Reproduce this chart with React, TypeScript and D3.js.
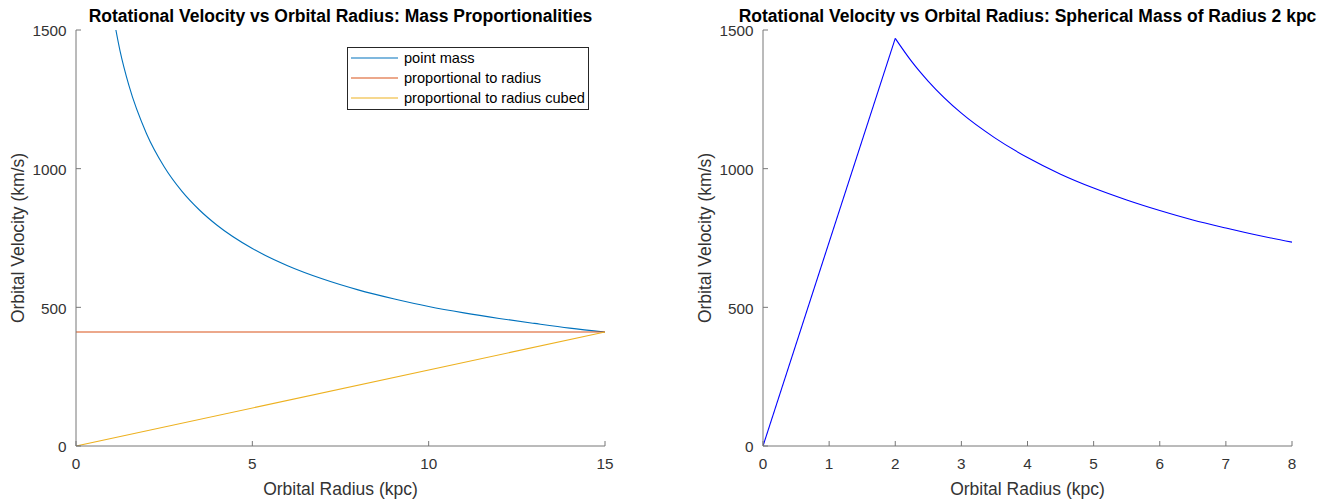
import React from "react";
import * as d3 from "d3";

// Left panel data
const pointMassR = [1.0, 1.25, 1.5, 2, 2.5, 3, 3.5, 4, 5, 6, 7, 8, 9, 10, 11, 12, 13, 14, 15];
const pointMassV = [1592, 1424, 1300, 1126, 1007, 919, 851, 796, 712, 650, 602, 563, 531, 503, 480, 460, 442, 425, 411];
const propRadiusR = [0, 15];
const propRadiusV = [411, 411];
const propCubedR = [0, 15];
const propCubedV = [0, 411];

// Right panel data: inside the sphere (linear rise) and outside (decline)
const sphereInnerR = [0, 2];
const sphereInnerV = [0, 1470];
const sphereOuterR = [2, 2.25, 2.5, 3, 3.5, 4, 4.5, 5, 5.5, 6, 6.5, 7, 7.5, 8];
const sphereOuterV = [1470, 1386, 1315, 1200, 1112, 1040, 980, 930, 887, 849, 815, 786, 759, 735];

const leftXTicks = [0, 5, 10, 15];
const rightXTicks = [0, 1, 2, 3, 4, 5, 6, 7, 8];
const yTicks = [0, 500, 1000, 1500];

const legendLabels = ["point mass", "proportional to radius", "proportional to radius cubed"];
const colors = ["#0072BD", "#D95319", "#EDB120"];

const FONT = "Arial, 'Liberation Sans', Helvetica, sans-serif";
const AXIS = "#777777";
const TXT = "#333333";

const top = 30, bottom = 446;

function Panel({ x0, x1, xMax, xTicks, title, series, id, legend }: any) {
  const xs = d3.scaleLinear().domain([0, xMax]).range([x0, x1]);
  const ys = d3.scaleLinear().domain([0, 1500]).range([bottom, top]);
  const line = d3.line<[number, number]>().x(d => xs(d[0])).y(d => ys(d[1])).curve(d3.curveMonotoneX);
  const cx = (x0 + x1) / 2;
  return (
    <g>
      <defs>
        <clipPath id={id}>
          <rect x={x0} y={top} width={x1 - x0} height={bottom - top} />
        </clipPath>
      </defs>
      <g clipPath={`url(#${id})`}>
        {series.map((s: any, i: number) => (
          <path key={i} d={line(s.r.map((r: number, j: number) => [r, s.v[j]]))!} fill="none" stroke={s.color} strokeWidth={1.1} />
        ))}
      </g>
      <line x1={x0} x2={x1} y1={bottom} y2={bottom} stroke={AXIS} strokeWidth={1} />
      <line x1={x0} x2={x0} y1={top} y2={bottom} stroke={AXIS} strokeWidth={1} />
      {xTicks.map((t: number) => (
        <g key={t}>
          <line x1={xs(t)} x2={xs(t)} y1={bottom} y2={bottom - 5} stroke={AXIS} />
          <text x={xs(t)} y={bottom + 23} textAnchor="middle" fontSize={15.3} fill={TXT} fontFamily={FONT}>{t}</text>
        </g>
      ))}
      {yTicks.map((t: number) => (
        <g key={t}>
          <line x1={x0} x2={x0 + 5} y1={ys(t)} y2={ys(t)} stroke={AXIS} />
          <text x={x0 - 9.5} y={ys(t) + 6.3} textAnchor="end" fontSize={15.3} fill={TXT} fontFamily={FONT}>{t}</text>
        </g>
      ))}
      <text x={cx} y={495} textAnchor="middle" fontSize={17.5} fill={TXT} fontFamily={FONT}>Orbital Radius (kpc)</text>
      <text transform={`translate(${x0 - 52},${(top + bottom) / 2}) rotate(-90)`} textAnchor="middle" fontSize={17.5} fill={TXT} fontFamily={FONT}>Orbital Velocity (km/s)</text>
      <text x={cx} y={22} textAnchor="middle" fontSize={17.5} fontWeight="bold" fill="#000" fontFamily={FONT}>{title}</text>
      {legend && (
        <g>
          <rect x={347.5} y={47.5} width={241} height={62} fill="#fff" stroke="#262626" strokeWidth={1} />
          {legendLabels.map((l, i) => (
            <g key={l}>
              <line x1={351} x2={398} y1={58 + i * 20} y2={58 + i * 20} stroke={colors[i]} strokeWidth={1.1} />
              <text x={404} y={63 + i * 20} fontSize={14.6} fill="#000" fontFamily={FONT}>{l}</text>
            </g>
          ))}
        </g>
      )}
    </g>
  );
}

export default function App() {
  return (
    <svg width={1332} height={500} style={{ position: "absolute", left: 0, top: 0, background: "#fff" }}>
      <rect width={1332} height={500} fill="#fff" />
      <Panel
        id="clipL" x0={76} x1={605} xMax={15} xTicks={leftXTicks} legend
        title="Rotational Velocity vs Orbital Radius: Mass Proportionalities"
        series={[
          { r: pointMassR, v: pointMassV, color: colors[0] },
          { r: propRadiusR, v: propRadiusV, color: colors[1] },
          { r: propCubedR, v: propCubedV, color: colors[2] },
        ]}
      />
      <Panel
        id="clipR" x0={763} x1={1292} xMax={8} xTicks={rightXTicks}
        title="Rotational Velocity vs Orbital Radius: Spherical Mass of Radius 2 kpc"
        series={[
          { r: sphereInnerR, v: sphereInnerV, color: "#0000FF" },
          { r: sphereOuterR, v: sphereOuterV, color: "#0000FF" },
        ]}
      />
    </svg>
  );
}
